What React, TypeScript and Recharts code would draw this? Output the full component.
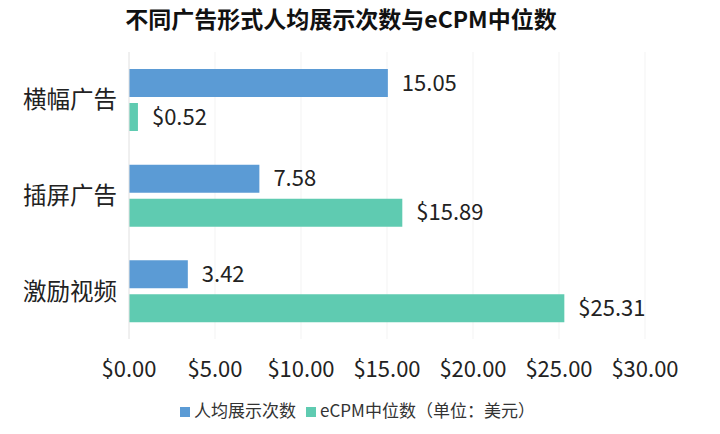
import React from 'react';
import { BarChart, Bar, XAxis, YAxis, CartesianGrid, Legend, LabelList } from 'recharts';

const categories = ['横幅广告', '插屏广告', '激励视频'];
const impressions = [15.05, 7.58, 3.42];
const ecpm = [0.52, 15.89, 25.31];
const xTicks = [0, 5, 10, 15, 20, 25, 30];

const FONT = '"Noto Sans CJK SC", "Noto Sans", sans-serif';
const BLUE = '#5b9bd5';
const TEAL = '#5fcbb1';

const data = categories.map((name, i) => ({ name, impressions: impressions[i], ecpm: ecpm[i] }));

const App: React.FC = () => {
  return (
    <div style={{ position: 'absolute', left: 0, top: 0, width: 720, height: 434, background: '#fff', fontFamily: FONT }}>
      <div style={{ position: 'absolute', top: 1, left: 0, width: 682, textAlign: 'center', fontSize: 23, fontWeight: 'bold', color: '#111' }}>
        不同广告形式人均展示次数与eCPM中位数
      </div>
      <BarChart
        width={720}
        height={434}
        data={data}
        layout="vertical"
        margin={{ top: 52, right: 75, left: 0, bottom: 12 }}
        barCategoryGap={17}
        barGap={6}
      >
        <CartesianGrid horizontal={false} stroke="#f3f3f3" />
        <XAxis
          type="number"
          domain={[0, 30]}
          ticks={xTicks}
          tickFormatter={(v: number) => `$${v.toFixed(2)}`}
          axisLine={false}
          tickLine={false}
          height={58}
          tick={{ fontSize: 22, fill: '#222', fontFamily: FONT, dy: 14 }}
        />
        <YAxis
          type="category"
          dataKey="name"
          width={129}
          axisLine={{ stroke: '#e6e6e6' }}
          tickLine={false}
          tick={{ fontSize: 23.5, fill: '#222', fontFamily: FONT, dx: -4 }}
        />
        <Legend
          verticalAlign="bottom"
          iconType="square"
          iconSize={10}
          itemSorter={null}
          wrapperStyle={{ fontSize: 17, fontFamily: FONT, color: '#333', paddingLeft: 40 }}
          formatter={(value: string) => <span style={{ color: '#333' }}>{value}</span>}
        />
        <Bar dataKey="impressions" name="人均展示次数" fill={BLUE} isAnimationActive={false}>
          <LabelList dataKey="impressions" position="right" offset={14} style={{ fontSize: 22, fill: '#222', fontFamily: FONT }} formatter={(v: number) => v.toFixed(2)} />
        </Bar>
        <Bar dataKey="ecpm" name="eCPM中位数（单位：美元）" fill={TEAL} isAnimationActive={false}>
          <LabelList dataKey="ecpm" position="right" offset={14} style={{ fontSize: 22, fill: '#222', fontFamily: FONT }} formatter={(v: number) => `$${v.toFixed(2)}`} />
        </Bar>
      </BarChart>
    </div>
  );
};

export default App;
